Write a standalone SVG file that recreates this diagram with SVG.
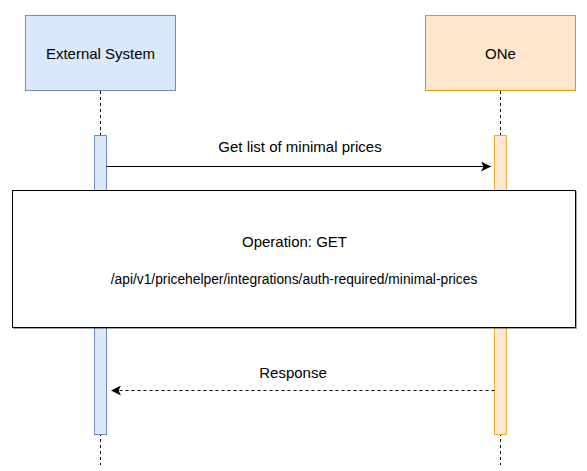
<svg xmlns="http://www.w3.org/2000/svg" width="587" height="471" viewBox="0 0 587 471">
<defs>
<style>
text{font-family:"Liberation Sans",Arial,sans-serif;font-size:15px;fill:#000;text-anchor:middle;dominant-baseline:central}
.path{font-size:13.8px}
.life{stroke:#000;stroke-width:1;stroke-dasharray:3 3;fill:none}
.blue{fill:#dae8fc;stroke:#6c8ebf;stroke-width:1}
.orange{fill:#ffe6cc;stroke:#d79b00;stroke-width:1}
.act-o{fill:#ffe6cc;stroke:#e6b23c;stroke-width:1}
.msg{stroke:#000;stroke-width:1;fill:none}
</style>
<marker id="ah" viewBox="0 0 10 10" refX="10" refY="5" markerWidth="10" markerHeight="10" markerUnits="userSpaceOnUse" orient="auto">
<path d="M0,0 L10,5 L0,10 L2.5,5 Z" fill="#000"/>
</marker>
</defs>
<g id="lifelines">
<line class="life" x1="100.5" y1="91" x2="100.5" y2="465"/>
<line class="life" x1="500.5" y1="91" x2="500.5" y2="465"/>
</g>
<g id="external-system">
<rect class="blue" x="25.5" y="15.5" width="150" height="75"/>
<text x="100.5" y="53">External System</text>
</g>
<g id="one">
<rect class="orange" x="425.5" y="15.5" width="150" height="75"/>
<text x="500.5" y="53">ONe</text>
</g>
<g id="activation-external">
<rect class="blue" x="94.5" y="135.5" width="12" height="299"/>
</g>
<g id="activation-one">
<rect class="act-o" x="494.5" y="135.5" width="12" height="299"/>
</g>
<g id="connectors">
<line class="msg" x1="106.5" y1="166.5" x2="491" y2="166.5" marker-end="url(#ah)"/>
<text x="300" y="146">Get list of minimal prices</text>
<line class="msg" x1="494.5" y1="390.5" x2="111" y2="390.5" stroke-dasharray="3 3" marker-end="url(#ah)"/>
<text x="293" y="372">Response</text>
</g>
<g id="operation-note">
<rect x="12.5" y="190.5" width="563" height="137" fill="#fff" stroke="#000" stroke-width="1" style="filter:drop-shadow(1px 1px 0.5px rgba(0,0,0,0.35))"/>
<text x="294.5" y="241">Operation: GET</text>
<text class="path" x="294" y="279">/api/v1/pricehelper/integrations/auth-required/minimal-prices</text>
</g>
</svg>
